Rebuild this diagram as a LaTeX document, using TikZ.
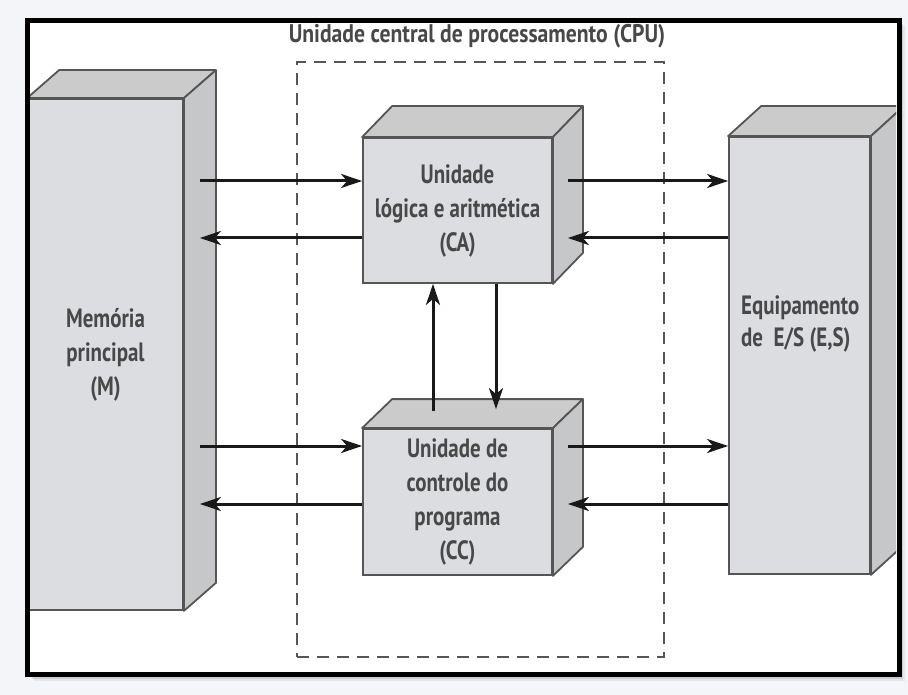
\documentclass[tikz,border=0pt]{standalone}
\usepackage{fontspec}
\setmainfont{PT Sans}[FakeStretch=0.79]
\newfontfamily\titlefont{PT Sans}[FakeStretch=0.85]
\usetikzlibrary{arrows.meta,calc}
\definecolor{page}{HTML}{F4F5F8}
\definecolor{face}{HTML}{DCDDE0}
\definecolor{topface}{HTML}{CBCBCC}
\definecolor{sideface}{HTML}{C6C7C9}
\definecolor{edge}{HTML}{555555}
\definecolor{ink}{HTML}{484848}

\begin{document}
\begin{tikzpicture}[x=1pt,y=-1pt,
  box/.style={draw=edge,line width=1.8pt,fill=face,inner sep=0pt,
    font=\fontsize{26.5}{34}\selectfont\bfseries,text=ink,align=center},
  lbl/.style={inner sep=0pt,font=\fontsize{26.5}{32}\selectfont\bfseries,text=ink},
  flow/.style={line width=3pt,draw=black!90,
    -{Stealth[length=21pt,width=14pt,inset=6pt]}}]
  \useasboundingbox (0,0) rectangle (908,695);
  \fill[page] (0,0) rectangle (908,695);

  % frame with a soft shadow
  \foreach \s/\o in {6/0.06,4/0.1,2/0.18}
    \fill[black,opacity=\o] (27.5+\s,20.5+\s) rectangle (899+\s,674.5+\s);
  \fill[white] (27.5,20.5) rectangle (899,674.5);

  % CPU boundary
  \node[draw=edge,dash pattern=on 12pt off 8pt,line width=2.2pt,inner sep=0pt,
    minimum width=367pt,minimum height=595pt] (cpu) at (480.5,359.5) {};
  \node[lbl,anchor=base,font=\titlefont\fontsize{25.5}{32}\selectfont\bfseries]
    (cputitle) at ($(cpu.north)+(-3.5,-18)$) {Unidade central de processamento (CPU)};

  \begin{scope}
    \clip (30,23) rectangle (896,672);
    \node[box,minimum width=155pt,minimum height=511pt] (mem) at (105.5,354.5)
      {Memória\\principal\\(M)};
    \node[box,minimum width=189pt,minimum height=145pt] (ca) at (457.5,210.5)
      {Unidade\\lógica e aritmética\\(CA)};
    \node[box,minimum width=189pt,minimum height=146pt] (cc) at (457.5,502)
      {Unidade de\\controle do\\programa\\(CC)};
    \node[box,minimum width=141pt,minimum height=437pt] (es) at (799.5,355.5) {};
    \node[lbl,align=left,anchor=north west] (estxt) at (741,295.5)
      {Equipamento\\de \ E/S (E,S)};

    % top and side faces
    \foreach \n/\d/\h in {mem/32/28,ca/30/31,cc/30/29,es/33/30}{
      \draw[edge,line width=1.8pt,line join=round,fill=topface]
        (\n.north west) -- ++(\d,-\h) -- ($(\n.north east)+(\d,-\h)$)
        -- (\n.north east) -- cycle;
      \draw[edge,line width=1.8pt,line join=round,fill=sideface]
        (\n.north east) -- ++(\d,-\h) -- ($(\n.south east)+(\d,-\h)$)
        -- (\n.south east) -- cycle;
    }
  \end{scope}

  \coordinate (memside) at ($(mem.east)+(16,0)$);
  \coordinate (caside) at ($(ca.east)+(15,0)$);
  \coordinate (ccside) at ($(cc.east)+(15,0)$);
  \coordinate (uplink) at ($(cc.north)+(-24.5,-17)$);
  \coordinate (downlink) at ($(ca.south)+(38.5,0)$);

  % data paths
  \draw[flow] (memside |- 0,181) -- (ca.west |- 0,181);
  \draw[flow] (ca.west |- 0,238) -- (memside |- 0,238);
  \draw[flow] (caside |- 0,181) -- (es.west |- 0,181);
  \draw[flow] (es.west |- 0,238) -- (caside |- 0,238);
  \draw[flow] (memside |- 0,446) -- (cc.west |- 0,446);
  \draw[flow] (cc.west |- 0,504) -- (memside |- 0,504);
  \draw[flow] (ccside |- 0,446) -- (es.west |- 0,446);
  \draw[flow] (es.west |- 0,504) -- (ccside |- 0,504);
  \draw[flow] (uplink) -- (uplink |- ca.south);
  \draw[flow] (downlink) -- ($(downlink |- cc.north)+(0,-19)$);

  \draw[black,line width=5pt] (27.5,20.5) rectangle (899,674.5);
\end{tikzpicture}
\end{document}
